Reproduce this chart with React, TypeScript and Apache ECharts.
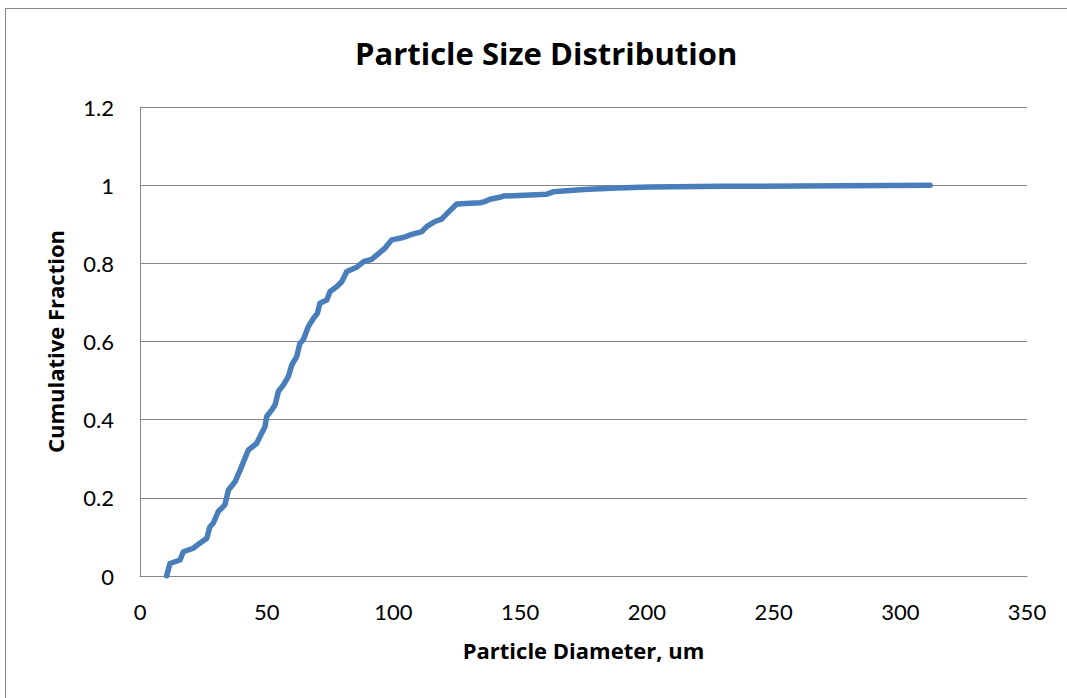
import React, { useEffect, useRef } from "react";
import * as echarts from "echarts";

const diameters = [10.5, 11.8, 15.8, 17.1, 21, 23, 26.3, 27.6, 28.9, 30.9, 33.5, 34.9, 37.5, 39.5, 41.4, 42.7, 46, 48, 49.3, 50, 52, 53.3, 54.6, 56.6, 58.5, 59.9, 61.8, 63.1, 64.4, 66.4, 68.4, 70, 71, 73.7, 75, 77.6, 79.6, 81.6, 85.5, 88.1, 91.4, 93.4, 96.7, 99.3, 103.9, 107.2, 111.2, 113.1, 116.4, 119, 121.7, 125, 134.2, 136.1, 138.1, 142, 143.4, 160.5, 163.1, 168.4, 175, 188, 201, 230, 260, 311.8];
const fractions = [0, 0.032, 0.041, 0.062, 0.071, 0.081, 0.096, 0.126, 0.135, 0.165, 0.182, 0.22, 0.241, 0.271, 0.301, 0.322, 0.339, 0.365, 0.382, 0.408, 0.425, 0.438, 0.472, 0.489, 0.51, 0.54, 0.561, 0.595, 0.604, 0.638, 0.659, 0.672, 0.698, 0.706, 0.728, 0.74, 0.753, 0.779, 0.79, 0.804, 0.81, 0.821, 0.839, 0.86, 0.866, 0.874, 0.881, 0.894, 0.907, 0.913, 0.931, 0.952, 0.955, 0.958, 0.964, 0.969, 0.972, 0.977, 0.983, 0.986, 0.989, 0.993, 0.995, 0.997, 0.998, 1.0];

const titleText = "Particle Size Distribution";
const xName = "Particle Diameter, um";
const yName = "Cumulative Fraction";

const FONT = "Lato, 'Open Sans', sans-serif";
const BOLD_FONT = "'Open Sans', Lato, sans-serif";

export default function App() {
  const ref = useRef<HTMLDivElement>(null);
  useEffect(() => {
    if (!ref.current) return;
    const chart = echarts.init(ref.current, null, { renderer: "svg" });
    const data = diameters.map((d, i) => [d, fractions[i]]);
    chart.setOption({
      animation: false,
      backgroundColor: "#ffffff",
      title: {
        text: titleText,
        left: 350,
        top: 32,
        textStyle: { fontFamily: BOLD_FONT, fontSize: 31, fontWeight: "bold", color: "#000" },
      },
      graphic: [
        { type: "line", shape: { x1: 5, y1: 8.5, x2: 1067, y2: 8.5 }, style: { stroke: "#868686", lineWidth: 1 } },
        { type: "line", shape: { x1: 5.5, y1: 8, x2: 5.5, y2: 698 }, style: { stroke: "#868686", lineWidth: 1 } },
      ],
      grid: { left: 140, top: 107, right: 40, bottom: 122, containLabel: false },
      xAxis: {
        type: "value",
        min: 0,
        max: 350,
        interval: 50,
        name: xName,
        nameLocation: "middle",
        nameGap: 63,
        nameTextStyle: { fontFamily: BOLD_FONT, fontSize: 22, fontWeight: "bold", color: "#000" },
        axisLine: { show: true, lineStyle: { color: "#868686", width: 1 } },
        axisTick: { show: false },
        axisLabel: { fontFamily: FONT, fontSize: 22, color: "#000", margin: 24 },
        splitLine: { show: false },
      },
      yAxis: {
        type: "value",
        min: 0,
        max: 1.2,
        interval: 0.2,
        name: yName,
        nameLocation: "middle",
        nameGap: 74,
        nameTextStyle: { fontFamily: BOLD_FONT, fontSize: 22, fontWeight: "bold", color: "#000" },
        axisLine: { show: true, lineStyle: { color: "#868686", width: 1 } },
        axisTick: { show: false },
        axisLabel: {
          fontFamily: FONT,
          fontSize: 22,
          color: "#000",
          margin: 26,
          formatter: (v: number) => String(Math.round(v * 10) / 10),
        },
        splitLine: { show: true, lineStyle: { color: "#868686", width: 1 } },
      },
      series: [
        {
          type: "line",
          data,
          showSymbol: false,
          smooth: false,
          lineStyle: { color: "#4A7EBB", width: 5.5, cap: "round", join: "round" },
          itemStyle: { color: "#4A7EBB" },
        },
      ],
    });
    return () => chart.dispose();
  }, []);
  return (
    <div
      ref={ref}
      style={{ position: "fixed", left: 0, top: 0, width: 1067, height: 698 }}
    />
  );
}
